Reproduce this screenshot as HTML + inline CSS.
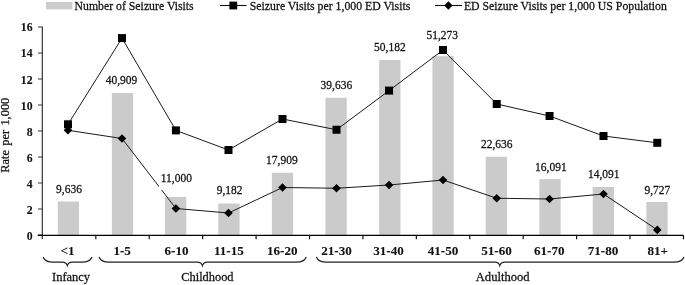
<!DOCTYPE html><html><head><meta charset="utf-8"><style>html,body{margin:0;padding:0;background:#fff;width:685px;height:285px;overflow:hidden}svg{display:block;will-change:transform}text{font-family:"Liberation Serif",serif;fill:#111;stroke:#111;stroke-width:0.25px}text[font-weight=bold]{stroke-width:0.08px}</style></head><body>
<svg width="685" height="285" viewBox="0 0 685 285">
<rect x="57.75" y="201.5" width="21.3" height="33.50" fill="#cbcbcb"/>
<rect x="111.85" y="93" width="21.3" height="142.00" fill="#cbcbcb"/>
<rect x="164.95" y="197" width="21.3" height="38.00" fill="#cbcbcb"/>
<rect x="218.25" y="203.5" width="21.3" height="31.50" fill="#cbcbcb"/>
<rect x="271.85" y="172.75" width="21.3" height="62.25" fill="#cbcbcb"/>
<rect x="325.45" y="97.75" width="21.3" height="137.25" fill="#cbcbcb"/>
<rect x="379.15" y="60" width="21.3" height="175.00" fill="#cbcbcb"/>
<rect x="432.45" y="56.2" width="21.3" height="178.80" fill="#cbcbcb"/>
<rect x="485.75" y="156.75" width="21.3" height="78.25" fill="#cbcbcb"/>
<rect x="539.35" y="179.1" width="21.3" height="55.90" fill="#cbcbcb"/>
<rect x="592.75" y="187" width="21.3" height="48.00" fill="#cbcbcb"/>
<rect x="646.35" y="202" width="21.3" height="33.00" fill="#cbcbcb"/>
<line x1="42.3" y1="26.5" x2="42.3" y2="239" stroke="#222" stroke-width="1.1"/>
<line x1="38" y1="235.0" x2="42.0" y2="235.0" stroke="#333" stroke-width="1"/>
<text transform="translate(32.60,240.20) scale(1,1.13)" text-anchor="end" font-size="11.8" font-weight="bold">0</text>
<line x1="38" y1="209.0" x2="42.0" y2="209.0" stroke="#333" stroke-width="1"/>
<text transform="translate(32.60,214.09) scale(1,1.13)" text-anchor="end" font-size="11.8" font-weight="bold">2</text>
<line x1="38" y1="183.0" x2="42.0" y2="183.0" stroke="#333" stroke-width="1"/>
<text transform="translate(32.60,187.98) scale(1,1.13)" text-anchor="end" font-size="11.8" font-weight="bold">4</text>
<line x1="38" y1="157.0" x2="42.0" y2="157.0" stroke="#333" stroke-width="1"/>
<text transform="translate(32.60,161.86) scale(1,1.13)" text-anchor="end" font-size="11.8" font-weight="bold">6</text>
<line x1="38" y1="131.0" x2="42.0" y2="131.0" stroke="#333" stroke-width="1"/>
<text transform="translate(32.60,135.75) scale(1,1.13)" text-anchor="end" font-size="11.8" font-weight="bold">8</text>
<line x1="38" y1="105.0" x2="42.0" y2="105.0" stroke="#333" stroke-width="1"/>
<text transform="translate(32.60,109.64) scale(1,1.13)" text-anchor="end" font-size="11.8" font-weight="bold">10</text>
<line x1="38" y1="79.0" x2="42.0" y2="79.0" stroke="#333" stroke-width="1"/>
<text transform="translate(32.60,83.52) scale(1,1.13)" text-anchor="end" font-size="11.8" font-weight="bold">12</text>
<line x1="38" y1="53.0" x2="42.0" y2="53.0" stroke="#333" stroke-width="1"/>
<text transform="translate(32.60,57.41) scale(1,1.13)" text-anchor="end" font-size="11.8" font-weight="bold">14</text>
<line x1="38" y1="27.0" x2="42.0" y2="27.0" stroke="#333" stroke-width="1"/>
<text transform="translate(32.60,31.30) scale(1,1.13)" text-anchor="end" font-size="11.8" font-weight="bold">16</text>
<line x1="37.7" y1="235.4" x2="683.5" y2="235.4" stroke="#000" stroke-width="1.25"/>
<line x1="95.82" y1="235.0" x2="95.82" y2="239.3" stroke="#111" stroke-width="1.2"/>
<line x1="149.24" y1="235.0" x2="149.24" y2="239.3" stroke="#111" stroke-width="1.2"/>
<line x1="202.66" y1="235.0" x2="202.66" y2="239.3" stroke="#111" stroke-width="1.2"/>
<line x1="256.08" y1="235.0" x2="256.08" y2="239.3" stroke="#111" stroke-width="1.2"/>
<line x1="309.50" y1="235.0" x2="309.50" y2="239.3" stroke="#111" stroke-width="1.2"/>
<line x1="362.92" y1="235.0" x2="362.92" y2="239.3" stroke="#111" stroke-width="1.2"/>
<line x1="416.34" y1="235.0" x2="416.34" y2="239.3" stroke="#111" stroke-width="1.2"/>
<line x1="469.76" y1="235.0" x2="469.76" y2="239.3" stroke="#111" stroke-width="1.2"/>
<line x1="523.18" y1="235.0" x2="523.18" y2="239.3" stroke="#111" stroke-width="1.2"/>
<line x1="576.60" y1="235.0" x2="576.60" y2="239.3" stroke="#111" stroke-width="1.2"/>
<line x1="630.02" y1="235.0" x2="630.02" y2="239.3" stroke="#111" stroke-width="1.2"/>
<line x1="683.44" y1="235.0" x2="683.44" y2="239.3" stroke="#111" stroke-width="1.2"/>
<polyline points="68.00,124.3 122.00,38.1 175.90,130.4 228.50,150 282.50,119 336.50,129.75 389.05,90.6 443.00,50 496.75,104 549.55,116 603.50,136 657.30,142.8" fill="none" stroke="#1a1a1a" stroke-width="1.0"/>
<polyline points="68.00,130.3 122.00,138.5 175.90,208.5 228.50,213 282.50,187.5 336.50,188.25 389.05,185 443.00,180 496.75,198.25 549.55,199 603.50,194 657.30,229.9" fill="none" stroke="#1a1a1a" stroke-width="1.0"/>
<rect x="64.00" y="120.3" width="8" height="8" fill="#000"/>
<path d="M68.00 126.00L72.30 130.30L68.00 134.60L63.70 130.30Z" fill="#000"/>
<rect x="118.00" y="34.1" width="8" height="8" fill="#000"/>
<path d="M122.00 134.20L126.30 138.50L122.00 142.80L117.70 138.50Z" fill="#000"/>
<rect x="171.90" y="126.4" width="8" height="8" fill="#000"/>
<path d="M175.90 204.20L180.20 208.50L175.90 212.80L171.60 208.50Z" fill="#000"/>
<rect x="224.50" y="146" width="8" height="8" fill="#000"/>
<path d="M228.50 208.70L232.80 213.00L228.50 217.30L224.20 213.00Z" fill="#000"/>
<rect x="278.50" y="115" width="8" height="8" fill="#000"/>
<path d="M282.50 183.20L286.80 187.50L282.50 191.80L278.20 187.50Z" fill="#000"/>
<rect x="332.50" y="125.75" width="8" height="8" fill="#000"/>
<path d="M336.50 183.95L340.80 188.25L336.50 192.55L332.20 188.25Z" fill="#000"/>
<rect x="385.05" y="86.6" width="8" height="8" fill="#000"/>
<path d="M389.05 180.70L393.35 185.00L389.05 189.30L384.75 185.00Z" fill="#000"/>
<rect x="439.00" y="46" width="8" height="8" fill="#000"/>
<path d="M443.00 175.70L447.30 180.00L443.00 184.30L438.70 180.00Z" fill="#000"/>
<rect x="492.75" y="100" width="8" height="8" fill="#000"/>
<path d="M496.75 193.95L501.05 198.25L496.75 202.55L492.45 198.25Z" fill="#000"/>
<rect x="545.55" y="112" width="8" height="8" fill="#000"/>
<path d="M549.55 194.70L553.85 199.00L549.55 203.30L545.25 199.00Z" fill="#000"/>
<rect x="599.50" y="132" width="8" height="8" fill="#000"/>
<path d="M603.50 189.70L607.80 194.00L603.50 198.30L599.20 194.00Z" fill="#000"/>
<rect x="653.30" y="138.8" width="8" height="8" fill="#000"/>
<path d="M657.30 225.60L661.60 229.90L657.30 234.20L653.00 229.90Z" fill="#000"/>
<rect x="159" y="172" width="36" height="18" fill="#fff"/>
<text transform="translate(69.00,192.95) scale(1,1.12)" text-anchor="middle" font-size="11.5">9,636</text>
<text transform="translate(121.50,84.10) scale(1,1.12)" text-anchor="middle" font-size="11.5">40,909</text>
<text transform="translate(176.30,182.10) scale(1,1.12)" text-anchor="middle" font-size="11.5">11,000</text>
<text transform="translate(229.60,194.20) scale(1,1.12)" text-anchor="middle" font-size="11.5">9,182</text>
<text transform="translate(281.90,163.80) scale(1,1.12)" text-anchor="middle" font-size="11.5">17,909</text>
<text transform="translate(336.40,88.95) scale(1,1.12)" text-anchor="middle" font-size="11.5">39,636</text>
<text transform="translate(389.90,51.30) scale(1,1.12)" text-anchor="middle" font-size="11.5">50,182</text>
<text transform="translate(442.30,39.00) scale(1,1.12)" text-anchor="middle" font-size="11.5">51,273</text>
<text transform="translate(496.75,148.20) scale(1,1.12)" text-anchor="middle" font-size="11.5">22,636</text>
<text transform="translate(550.90,171.25) scale(1,1.12)" text-anchor="middle" font-size="11.5">16,091</text>
<text transform="translate(603.70,178.45) scale(1,1.12)" text-anchor="middle" font-size="11.5">14,091</text>
<text transform="translate(657.40,193.95) scale(1,1.12)" text-anchor="middle" font-size="11.5">9,727</text>
<text transform="translate(67.61,254.50) scale(1,1.0)" text-anchor="middle" font-size="13.1" font-weight="bold">&lt;1</text>
<text transform="translate(122.12,254.50) scale(1,1.0)" text-anchor="middle" font-size="13.1" font-weight="bold">1-5</text>
<text transform="translate(176.54,254.50) scale(1,1.0)" text-anchor="middle" font-size="13.1" font-weight="bold">6-10</text>
<text transform="translate(228.86,254.50) scale(1,1.0)" text-anchor="middle" font-size="13.1" font-weight="bold">11-15</text>
<text transform="translate(282.27,254.50) scale(1,1.0)" text-anchor="middle" font-size="13.1" font-weight="bold">16-20</text>
<text transform="translate(336.49,254.50) scale(1,1.0)" text-anchor="middle" font-size="13.1" font-weight="bold">21-30</text>
<text transform="translate(388.46,254.50) scale(1,1.0)" text-anchor="middle" font-size="13.1" font-weight="bold">31-40</text>
<text transform="translate(443.02,254.50) scale(1,1.0)" text-anchor="middle" font-size="13.1" font-weight="bold">41-50</text>
<text transform="translate(496.54,254.50) scale(1,1.0)" text-anchor="middle" font-size="13.1" font-weight="bold">51-60</text>
<text transform="translate(549.21,254.50) scale(1,1.0)" text-anchor="middle" font-size="13.1" font-weight="bold">61-70</text>
<text transform="translate(602.98,254.50) scale(1,1.0)" text-anchor="middle" font-size="13.1" font-weight="bold">71-80</text>
<text transform="translate(657.79,254.50) scale(1,1.0)" text-anchor="middle" font-size="13.1" font-weight="bold">81+</text>
<path d="M43.1 257.0C44.6 260.6 48.1 262.2 53.1 262.2L62.3 262.2Q66.3 262.2 67.3 265.6Q68.3 262.2 72.3 262.2L82 262.2C87 262.2 90.5 260.6 92 257.0" fill="none" stroke="#222" stroke-width="1.2"/>
<path d="M99 257.0C100.5 260.6 104 262.2 109 262.2L197.4 262.2Q201.4 262.2 202.4 265.6Q203.4 262.2 207.4 262.2L296.3 262.2C301.3 262.2 304.8 260.6 306.3 257.0" fill="none" stroke="#222" stroke-width="1.2"/>
<path d="M316.3 257.0C317.8 260.6 321.3 262.2 326.3 262.2L494.8 262.2Q498.8 262.2 499.8 265.6Q500.8 262.2 504.8 262.2L674 262.2C679 262.2 682.5 260.6 684 257.0" fill="none" stroke="#222" stroke-width="1.2"/>
<text transform="translate(71.00,280.90) scale(1,1.07)" text-anchor="middle" font-size="12.4">Infancy</text>
<text transform="translate(207.40,280.90) scale(1,1.07)" text-anchor="middle" font-size="12.4">Childhood</text>
<text transform="translate(502.70,280.90) scale(1,1.07)" text-anchor="middle" font-size="12.6">Adulthood</text>
<text transform="translate(9.3,135.2) rotate(-90)" text-anchor="middle" font-size="12.4" word-spacing="1.2">Rate per 1,000</text>
<rect x="46" y="2" width="26.4" height="7.4" fill="#cbcbcb"/>
<text transform="translate(74.50,9.50) scale(1,1.07)" text-anchor="start" font-size="11.8">Number of Seizure Visits</text>
<line x1="220" y1="5.5" x2="246.6" y2="5.5" stroke="#111" stroke-width="1.1"/>
<rect x="229.4" y="1.6" width="7.8" height="7.8" fill="#000"/>
<text transform="translate(249.80,9.50) scale(1,1.07)" text-anchor="start" font-size="11.8">Seizure Visits per 1,000 ED Visits</text>
<line x1="435" y1="5.5" x2="462" y2="5.5" stroke="#111" stroke-width="1.1"/>
<path d="M448.4 1.2L452.6 5.5L448.4 9.8L444.2 5.5Z" fill="#000"/>
<text transform="translate(463.90,9.50) scale(1,1.07)" text-anchor="start" font-size="11.8">ED Seizure Visits per 1,000 US Population</text>
</svg></body></html>
